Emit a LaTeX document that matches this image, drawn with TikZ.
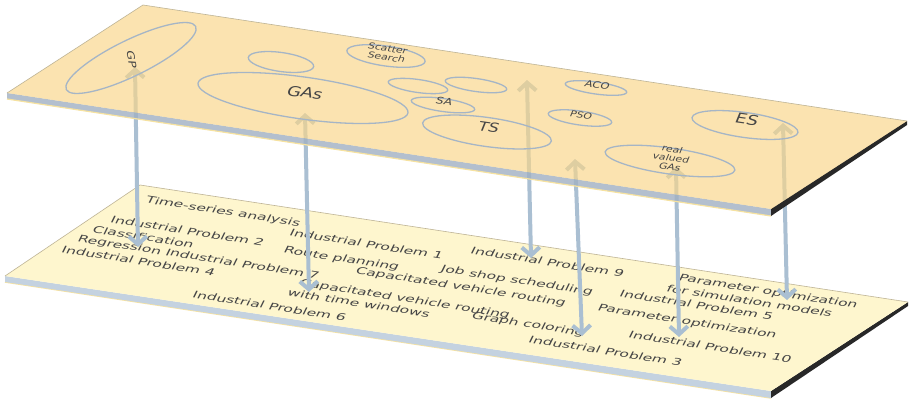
\documentclass[tikz,border=0pt]{standalone}
\usepackage{fontspec}
\usetikzlibrary{arrows.meta,shapes.geometric}
\newfontfamily\planefont{DejaVu Sans}[FakeStretch=1.28,FakeSlant=0.25]
\definecolor{topface}{RGB}{250,214,136}
\definecolor{lowface}{RGB}{254,246,206}
\definecolor{rimblue}{RGB}{160,176,194}
\definecolor{rimlight}{RGB}{196,210,224}
\definecolor{rimdark}{RGB}{40,40,40}
\definecolor{rimgold}{RGB}{246,226,160}
\definecolor{backline}{RGB}{190,180,150}
\definecolor{ringline}{RGB}{165,181,198}
\definecolor{linkblue}{RGB}{170,191,210}
\definecolor{inkgrey}{RGB}{70,70,70}
\newcommand\flatstack[1]{\smash{\begin{tabular}[c]{@{}c@{}}#1\end{tabular}}}
\newcommand\fsz[1]{\planefont\fontsize{#1}{#1}\selectfont}
\tikzset{
  ring/.style={ellipse, draw=ringline, line width=1.3pt, inner sep=0pt, outer sep=0pt, text=inkgrey},
  tilt/.style={rotate=-8},
  lowtext/.style={anchor=west, inner sep=0pt, rotate=-8.8, yscale=0.8, text=inkgrey, font=\fsz{12}},
  link/.style={draw=linkblue, line width=4pt,
    {Straight Barb[length=8pt,width=18pt]}-{Straight Barb[length=8pt,width=18pt]}},
}
\begin{document}
\begin{tikzpicture}[x=1pt,y=-1pt]
\fill[white] (0,0) rectangle (911,402);
\useasboundingbox (0,0) rectangle (911,402);

% ---------- lower plane ----------
\coordinate (LL) at (5,276);
\coordinate (LB) at (140,185);
\coordinate (LR) at (908,302);
\coordinate (LF) at (771,391);
\coordinate (LLd) at (5,282);
\coordinate (LFd) at (771,398);
\coordinate (LRd) at (908,306);
\draw[rimgold, line width=1.5pt] (LLd) -- (LFd);
\fill[rimlight] (LL) -- (LF) -- (LFd) -- (LLd) -- cycle;
\fill[rimdark] (LF) -- (LR) -- (LRd) -- (LFd) -- cycle;
\fill[lowface] (LL) -- (LB) -- (LR) -- (LF) -- cycle;
\draw[backline, line width=0.6pt] (LL) -- (LB) -- (LR);

% problems and their tasks
\node[lowtext] (t1) at (145,200) {Time-series analysis};
\node[lowtext] (t2) at (110,219) {Industrial Problem 2};
\node[lowtext] (t3) at (92,229) {Classification};
\node[lowtext] (t4) at (77,239) {Regression Industrial Problem 7};
\node[lowtext] (t5) at (61,249) {Industrial Problem 4};
\node[lowtext] (t6) at (192,294) {Industrial Problem 6};
\node[lowtext] (t7) at (289,232) {Industrial Problem 1};
\node[lowtext] (t8) at (283,250) {Route planning};
\node[lowtext] (t9) at (355,271) {Capacitated vehicle routing};
\node[lowtext] (t10) at (299,283) {Capacitated vehicle routing};
\node[lowtext] (t11) at (287,292) {with time windows};
\node[lowtext] (t12) at (440,269) {Job shop scheduling};
\node[lowtext] (t13) at (470,250) {Industrial Problem 9};
\node[lowtext] (t14) at (678,278) {Parameter optimization};
\node[lowtext] (t15) at (666,288) {for simulation models};
\node[lowtext] (t16) at (619,293) {Industrial Problem 5};
\node[lowtext] (t17) at (597,308) {Parameter optimization};
\node[lowtext] (t18) at (471,316) {Graph coloring};
\node[lowtext] (t19) at (628,334) {Industrial Problem 10};
\node[lowtext] (t20) at (528,339) {Industrial Problem 3};

% ---------- links between the planes ----------
\coordinate (a1b) at (138,247); \coordinate (a1t) at (135,67);
\coordinate (a2b) at (309,292); \coordinate (a2t) at (305,113);
\coordinate (a3b) at (531,258); \coordinate (a3t) at (527,80);
\coordinate (a4b) at (582,336); \coordinate (a4t) at (575,159);
\coordinate (a5b) at (679,337); \coordinate (a5t) at (676,167);
\coordinate (a6b) at (787,300); \coordinate (a6t) at (783,123);
\draw[link] (a1b) -- (a1t);
\draw[link] (a2b) -- (a2t);
\draw[link] (a3b) -- (a3t);
\draw[link] (a4b) -- (a4t);
\draw[link] (a5b) -- (a5t);
\draw[link] (a6b) -- (a6t);

% ---------- upper plane (translucent) ----------
\coordinate (UL) at (7,93);
\coordinate (UB) at (143,5);
\coordinate (UR) at (907,121);
\coordinate (UF) at (771,209);
\coordinate (ULd) at (7,99);
\coordinate (UFd) at (771,216);
\coordinate (URd) at (907,125);
\fill[rimblue, opacity=0.8] (UL) -- (UF) -- (UFd) -- (ULd) -- cycle;
\draw[rimgold, line width=1.2pt] (ULd) -- (UFd);
\fill[rimdark] (UF) -- (UR) -- (URd) -- (UFd) -- cycle;
\fill[topface, opacity=0.66] (UL) -- (UB) -- (UR) -- (UF) -- cycle;
\draw[backline, line width=0.6pt] (UL) -- (UB) -- (UR);

% methods
\node[ring, rotate=26, minimum width=144pt, minimum height=36pt, font=\fsz{10}] (gp) at (131,58) {\flatstack{\rotatebox{-106}{GP}}};
\node[ring, tilt, minimum width=66pt, minimum height=19pt] (e1) at (281,62) {};
\node[ring, tilt, minimum width=212pt, minimum height=42pt, font=\fsz{14}] (gas) at (303,98) {\flatstack{GAs}};
\node[ring, tilt, minimum width=79pt, minimum height=20pt, font=\fsz{8.5}] (ss) at (386,56) {\flatstack{Scatter\\Search}};
\node[ring, tilt, minimum width=60pt, minimum height=13pt] (e2) at (418,86) {};
\node[ring, tilt, minimum width=62pt, minimum height=13pt] (e3) at (476,85) {};
\node[ring, tilt, minimum width=64pt, minimum height=13pt, font=\fsz{9.5}] (sa) at (443,105) {\flatstack{SA}};
\node[ring, tilt, minimum width=130pt, minimum height=29pt, font=\fsz{13}] (ts) at (487,132) {\flatstack{TS}};
\node[ring, tilt, minimum width=62pt, minimum height=12pt, font=\fsz{9}] (aco) at (596,88) {\flatstack{ACO}};
\node[ring, tilt, minimum width=64pt, minimum height=14pt, font=\fsz{8.5}] (pso) at (580,118) {\flatstack{PSO}};
\node[ring, tilt, minimum width=107pt, minimum height=25pt, font=\fsz{14}] (es) at (745,125) {\flatstack{ES}};
\node[ring, tilt, minimum width=131pt, minimum height=26pt, font=\fsz{8.5}] (rvg) at (670,161) {\flatstack{real\\valued\\GAs}};
\end{tikzpicture}
\end{document}
